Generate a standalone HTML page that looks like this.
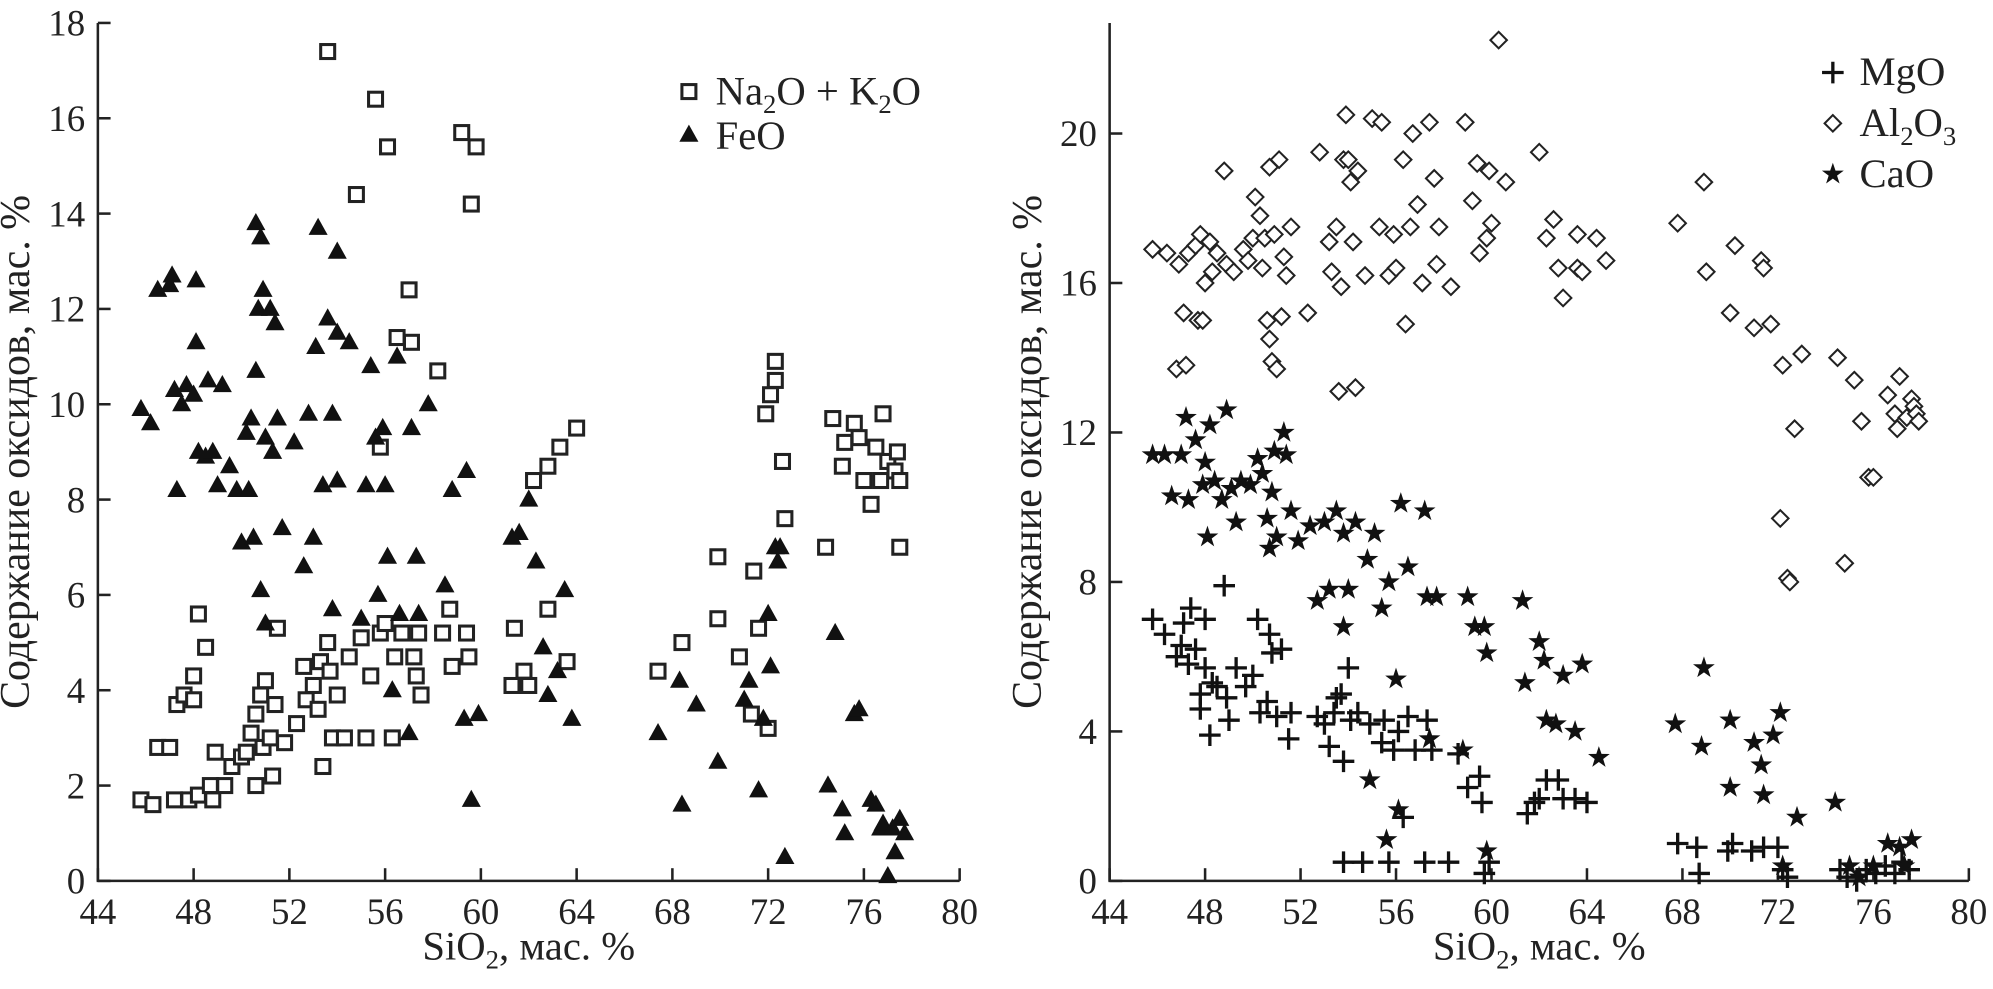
<!DOCTYPE html>
<html><head><meta charset="utf-8"><style>
html,body{margin:0;padding:0;background:#fff;}
svg{display:block;font-family:"Liberation Serif",serif;}
</style></head><body>
<svg id="chart" width="1993" height="989" viewBox="0 0 1568 778" xmlns="http://www.w3.org/2000/svg">
<g id="left"></g>
<g id="right"></g>
</svg>
<script>
const xTicks=[44,48,52,56,60,64,68,72,76,80];
const leftYTicks=[0,2,4,6,8,10,12,14,16,18];
const rightYTicks=[0,4,8,12,16,20];
const alkX=[45.8,46.3,46.5,47,47.2,47.3,47.6,47.8,48,48,48.2,48.2,48.5,48.7,48.8,48.9,49.3,49.6,50,50.2,50.4,50.6,50.6,50.8,50.9,51,51.2,51.3,51.4,51.5,51.8,52.3,52.6,52.7,53,53.2,53.3,53.4,53.6,53.6,53.7,53.8,54,54.3,54.5,54.8,55,55.2,55.4,55.6,55.8,55.8,56,56.1,56.3,56.4,56.5,56.7,57,57.1,57.2,57.3,57.4,57.5,58.2,58.4,58.7,58.8,59.2,59.4,59.5,59.6,59.8,61.3,61.4,61.8,62,62.2,62.8,62.8,63.3,63.6,64,67.4,68.4,69.9,69.9,70.8,71.3,71.4,71.6,71.9,72,72.1,72.3,72.3,72.6,72.7,74.4,74.7,75.1,75.2,75.6,75.8,76,76.3,76.5,76.7,76.8,77,77.3,77.4,77.5,77.5];
const alkY=[1.7,1.6,2.8,2.8,1.7,3.7,3.9,1.7,4.3,3.8,1.8,5.6,4.9,2,1.7,2.7,2,2.4,2.6,2.7,3.1,2,3.5,3.9,2.8,4.2,3,2.2,3.7,5.3,2.9,3.3,4.5,3.8,4.1,3.6,4.6,2.4,5,17.4,4.4,3,3.9,3,4.7,14.4,5.1,3,4.3,16.4,9.1,5.2,5.4,15.4,3,4.7,11.4,5.2,12.4,11.3,4.7,4.3,5.2,3.9,10.7,5.2,5.7,4.5,15.7,5.2,4.7,14.2,15.4,4.1,5.3,4.4,4.1,8.4,8.7,5.7,9.1,4.6,9.5,4.4,5,6.8,5.5,4.7,3.5,6.5,5.3,9.8,3.2,10.2,10.5,10.9,8.8,7.6,7,9.7,8.7,9.2,9.6,9.3,8.4,7.9,9.1,8.4,9.8,8.8,8.6,9,8.4,7];
const feoX=[45.8,46.2,46.5,47,47.1,47.2,47.3,47.5,47.7,48,48.1,48.1,48.2,48.5,48.6,48.8,49,49.2,49.5,49.8,50,50.2,50.3,50.4,50.5,50.6,50.6,50.7,50.8,50.8,50.9,51,51,51.2,51.3,51.4,51.5,51.7,52.2,52.6,52.8,53,53.1,53.2,53.4,53.6,53.8,53.8,54,54,54,54.5,55,55.2,55.4,55.6,55.7,55.9,56,56.1,56.3,56.5,56.6,57,57.1,57.3,57.4,57.8,58.5,58.8,59.3,59.4,59.6,59.9,61.3,61.6,62,62.3,62.6,62.8,63.2,63.5,63.8,67.4,68.3,68.4,69,69.9,71,71.2,71.6,71.8,72,72.1,72.3,72.4,72.5,72.7,74.5,74.8,75.1,75.2,75.6,75.8,76.3,76.5,76.7,76.8,77,77.2,77.3,77.5,77.7];
const feoY=[9.9,9.6,12.4,12.5,12.7,10.3,8.2,10,10.4,10.2,11.3,12.6,9,8.9,10.5,9,8.3,10.4,8.7,8.2,7.1,9.4,8.2,9.7,7.2,10.7,13.8,12,13.5,6.1,12.4,5.4,9.3,12,9,11.7,9.7,7.4,9.2,6.6,9.8,7.2,11.2,13.7,8.3,11.8,5.7,9.8,8.4,13.2,11.5,11.3,5.5,8.3,10.8,9.3,6,9.5,8.3,6.8,4,11,5.6,3.1,9.5,6.8,5.6,10,6.2,8.2,3.4,8.6,1.7,3.5,7.2,7.3,8,6.7,4.9,3.9,4.4,6.1,3.4,3.1,4.2,1.6,3.7,2.5,3.8,4.2,1.9,3.4,5.6,4.5,7,6.7,7,0.5,2,5.2,1.5,1,3.5,3.6,1.7,1.6,1.1,1.2,0.1,1.1,0.6,1.3,1];
const alX=[45.8,46.4,46.8,46.9,47.1,47.2,47.3,47.6,47.7,47.8,47.9,48,48.2,48.3,48.5,48.8,48.9,49.2,49.6,49.8,50,50.1,50.3,50.4,50.5,50.6,50.7,50.7,50.8,50.9,51,51.1,51.2,51.3,51.4,51.6,52.3,52.8,53.2,53.3,53.5,53.6,53.7,53.8,53.9,54,54.1,54.2,54.3,54.4,54.7,55,55.3,55.4,55.7,55.9,56,56.3,56.4,56.6,56.7,56.9,57.1,57.4,57.6,57.7,57.8,58.3,58.9,59.2,59.4,59.5,59.8,59.9,60,60.3,60.6,62,62.3,62.6,62.8,63,63.6,63.6,63.8,64.4,64.8,67.8,68.9,69,70,70.2,71,71.3,71.4,71.7,72.2,72.1,72.4,72.5,72.7,73,74.5,74.8,75.2,75.5,75.8,76,76.6,76.9,77,77.1,77.4,77.6,77.7,77.8,77.9];
const alY=[16.9,16.8,13.7,16.5,15.2,13.8,16.8,17,15,17.3,15,16,17.1,16.3,16.8,19,16.5,16.3,16.9,16.6,17.2,18.3,17.8,16.4,17.2,15,14.5,19.1,13.9,17.3,13.7,19.3,15.1,16.7,16.2,17.5,15.2,19.5,17.1,16.3,17.5,13.1,15.9,19.3,20.5,19.3,18.7,17.1,13.2,19,16.2,20.4,17.5,20.3,16.2,17.3,16.4,19.3,14.9,17.5,20,18.1,16,20.3,18.8,16.5,17.5,15.9,20.3,18.2,19.2,16.8,17.2,19,17.6,22.5,18.7,19.5,17.2,17.7,16.4,15.6,16.4,17.3,16.3,17.2,16.6,17.6,18.7,16.3,15.2,17,14.8,16.6,16.4,14.9,13.8,9.7,8.1,8,12.1,14.1,14,8.5,13.4,12.3,10.8,10.8,13,12.5,12.1,13.5,12.4,12.9,12.7,12.5,12.3];
const mgX=[45.8,46.3,46.8,47,47.1,47.3,47.4,47.6,47.8,47.8,48,48,48.2,48.3,48.5,48.8,48.9,49,49.3,49.7,50,50.2,50.3,50.6,50.7,50.8,51,51.2,51.5,51.6,52.7,53,53.2,53.4,53.5,53.7,53.8,53.8,54,54.1,54.4,54.6,54.9,55.4,55.5,55.7,55.9,56.1,56.3,56.5,56.8,57.2,57.3,57.5,58.2,58.6,59,59.5,59.6,59.7,59.9,61.5,61.8,62,62.3,62.8,63,63.5,64,67.8,68.6,68.7,69.9,70.1,70.9,71.4,72,72.2,72.4,74.6,74.9,75.3,75.7,76.1,76.5,76.9,77.2,77.5];
const mgY=[7,6.6,6,6.3,6.9,5.8,7.3,6.2,5,4.6,7,5.7,3.9,5.3,5.2,7.9,4.9,4.3,5.7,5.2,5.5,7,4.5,4.8,6.6,6.1,4.4,6.2,3.8,4.5,4.4,4.2,3.6,4.5,4.9,5,0.5,3.2,5.7,4.3,4.5,0.5,4.2,3.7,4.3,0.5,3.5,4,1.7,4.4,3.5,0.5,4.3,3.5,0.5,3.4,2.5,2.8,2.1,0.2,0.5,1.8,2.1,2.2,2.7,2.7,2.2,2.2,2.1,1,0.9,0.2,0.8,1,0.8,0.9,0.9,0.3,0.1,0.3,0.1,0,0.3,0.2,0.4,0.2,0.5,0.3];
const caX=[45.8,46.3,46.6,47,47.2,47.3,47.6,47.9,48,48.1,48.2,48.4,48.7,48.9,49.1,49.3,49.5,49.9,50.2,50.4,50.6,50.7,50.8,50.9,51,51.3,51.4,51.6,51.9,52.4,52.7,53,53.2,53.5,53.8,53.8,54,54.3,54.8,54.9,55.1,55.4,55.6,55.7,56,56.1,56.2,56.5,57.2,57.3,57.4,57.7,58.8,59,59.3,59.7,59.8,59.8,61.3,61.4,62,62.2,62.3,62.7,63,63.5,63.8,64.5,67.7,68.9,68.8,70,70,71,71.3,71.4,71.8,72.1,72.2,72.8,74.4,75,76,76.6,77.1,77.6,77.3,75.4];
const caY=[11.4,11.4,10.3,11.4,12.4,10.2,11.8,10.6,11.2,9.2,12.2,10.7,10.2,12.6,10.5,9.6,10.7,10.6,11.3,10.9,9.7,8.9,10.4,11.5,9.2,12,11.4,9.9,9.1,9.5,7.5,9.6,7.8,9.9,9.3,6.8,7.8,9.6,8.6,2.7,9.3,7.3,1.1,8,5.4,1.9,10.1,8.4,9.9,7.6,3.8,7.6,3.5,7.6,6.8,6.8,6.1,0.8,7.5,5.3,6.4,5.9,4.3,4.2,5.5,4,5.8,3.3,4.2,5.7,3.6,4.3,2.5,3.7,3.1,2.3,3.9,4.5,0.4,1.7,2.1,0.4,0.4,1,0.9,1.1,0.4,0.1];

const NS='http://www.w3.org/2000/svg';
function mk(parent,tag,attrs,text){const e=document.createElementNS(NS,tag);for(const k in attrs)e.setAttribute(k,attrs[k]);if(text!==undefined)e.textContent=text;parent.appendChild(e);return e;}
function scale(d0,d1,r0,r1){return v=>r0+(v-d0)/(d1-d0)*(r1-r0);}

function axes(g,X,Y,yTicks,yTop){
  const ax=mk(g,'path',{d:`M${X(44)},${yTop} L${X(44)},${Y(0)} L${X(80)},${Y(0)}`,fill:'none',stroke:'#222','stroke-width':2});
  
  
  xTicks.forEach(t=>{
    const l=mk(g,'line',{x1:X(t),x2:X(t),y1:Y(0),y2:Y(0)-10,stroke:'#222','stroke-width':2});
    
    
    const tx=mk(g,'text',{x:X(t),y:Y(0)+34,'text-anchor':'middle','font-size':29,fill:'#222'},t);
    
    
  });
  yTicks.forEach(t=>{
    const l=mk(g,'line',{x1:X(44),x2:X(44)+10,y1:Y(t),y2:Y(t),stroke:'#222','stroke-width':2});
    
    
    const tx=mk(g,'text',{x:X(44)-10,y:Y(t)+10,'text-anchor':'end','font-size':29,fill:'#222'},t);
    
    
  });
  const xt=mk(g,'text',{x:(X(44)+X(80))/2,y:Y(0)+62,'text-anchor':'middle','font-size':32,fill:'#222'});
  xt.innerHTML='SiO<tspan font-size="21" dy="7">2</tspan><tspan dy="-7">, мас. %</tspan>';
  
  
  const yt=mk(g,'text',{x:0,y:0,'text-anchor':'middle','font-size':33,fill:'#222',transform:`translate(${X(44)-54},${(yTop+Y(0))/2}) rotate(-90)`},'Содержание оксидов, мас. %');
  
  
}
function square(g,x,y){const e=mk(g,'rect',{x:x-5.5,y:y-5.5,width:11,height:11,fill:'#fff',stroke:'#222','stroke-width':2.4});return e;}
function tri(g,x,y){return mk(g,'path',{d:`M${x},${y-8} L${x+7.5},${y+5.5} L${x-7.5},${y+5.5}Z`,fill:'#111'});}
function diamond(g,x,y){return mk(g,'path',{d:`M${x},${y-6.5} L${x+6.5},${y} L${x},${y+6.5} L${x-6.5},${y}Z`,fill:'#fff',stroke:'#222','stroke-width':1.6});}
function plus(g,x,y){return mk(g,'path',{d:`M${x-8.5},${y} H${x+8.5} M${x},${y-8.5} V${y+8.5}`,stroke:'#111','stroke-width':2.6,fill:'none'});}
function star(g,x,y){let d='';for(let i=0;i<10;i++){const r=i%2?3.5:9;const a=-Math.PI/2+i*Math.PI/5;d+=(i?'L':'M')+(x+r*Math.cos(a)).toFixed(1)+','+(y+r*Math.sin(a)).toFixed(1);}return mk(g,'path',{d:d+'Z',fill:'#111'});}

// left
const gl=document.getElementById('left');
const XL=scale(44,80,77,755), YL=scale(0,18,693,18);
axes(gl,XL,YL,leftYTicks,18);
const gAlk=mk(gl,'g',{});
alkX.forEach((v,i)=>{const m=square(gAlk,XL(v),YL(alkY[i]));

});
const gFe=mk(gl,'g',{});
feoX.forEach((v,i)=>{const m=tri(gFe,XL(v),YL(feoY[i]));

});
// left legend
const lg=mk(gl,'g',{});
square(lg,542,72);tri(lg,542,106);
const l1=mk(lg,'text',{x:563,y:82,'font-size':32,fill:'#222'});l1.innerHTML='Na<tspan font-size="21" dy="7">2</tspan><tspan dy="-7">O + K</tspan><tspan font-size="21" dy="7">2</tspan><tspan dy="-7">O</tspan>';


const l2=mk(lg,'text',{x:563,y:117,'font-size':32,fill:'#222'},'FeO');



// right
const gr=document.getElementById('right');
const XR=scale(44,80,873,1549), YR=scale(0,20,693,105);
axes(gr,XR,YR,rightYTicks,18);
const gAl=mk(gr,'g',{});
alX.forEach((v,i)=>{const m=diamond(gAl,XR(v),YR(alY[i]));

});
const gMg=mk(gr,'g',{});
mgX.forEach((v,i)=>{const m=plus(gMg,XR(v),YR(mgY[i]));

});
const gCa=mk(gr,'g',{});
caX.forEach((v,i)=>{const m=star(gCa,XR(v),YR(caY[i]));

});
const rg=mk(gr,'g',{});
plus(rg,1442,57);diamond(rg,1442,97);star(rg,1442,137);
const r1=mk(rg,'text',{x:1463,y:67,'font-size':32,fill:'#222'},'MgO');


const r2=mk(rg,'text',{x:1463,y:107,'font-size':32,fill:'#222'});r2.innerHTML='Al<tspan font-size="21" dy="7">2</tspan><tspan dy="-7">O</tspan><tspan font-size="21" dy="7">3</tspan>';


const r3=mk(rg,'text',{x:1463,y:147,'font-size':32,fill:'#222'},'CaO');


</script>
</body></html>
